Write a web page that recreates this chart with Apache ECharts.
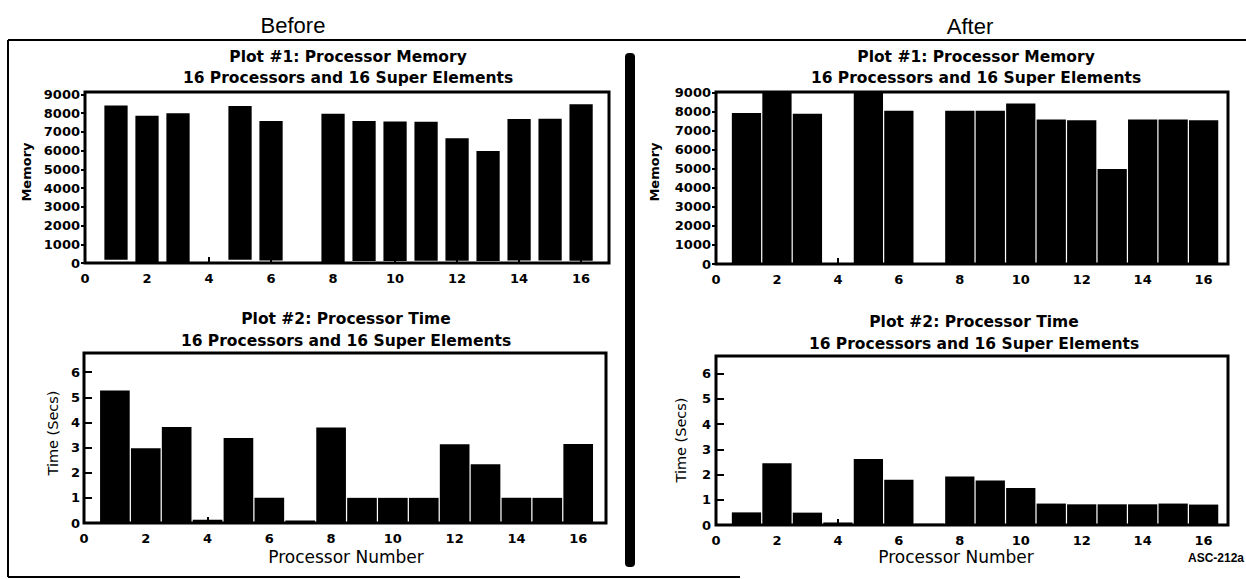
<!DOCTYPE html>
<html><head><meta charset="utf-8">
<script src="https://cdn.jsdelivr.net/npm/echarts@6/dist/echarts.min.js"></script>
<style>html,body{margin:0;padding:0;background:#fff}#c{width:1246px;height:579px}</style>
</head><body><div id="c"></div>
<script>
// ---- data ----
const processors = [1,2,3,4,5,6,7,8,9,10,11,12,13,14,15,16];
const memoryBefore     = [8400,7850,7990,0,8380,7570,0,7960,7570,7550,7530,6650,5970,7680,7700,8470];
const memoryBeforeBase = [180,0,0,0,180,140,0,0,110,110,120,120,110,130,130,120];
const timeBefore  = [5.27,2.97,3.82,0.13,3.38,1.0,0.1,3.8,1.0,1.0,1.0,3.13,2.34,1.0,1.0,3.14];
const memoryAfter = [7950,9100,7900,0,9100,8070,0,8070,8070,8450,7600,7570,5000,7600,7600,7570];
const timeAfter   = [0.5,2.45,0.49,0.1,2.62,1.79,0.05,1.92,1.76,1.47,0.85,0.82,0.82,0.82,0.85,0.81];
const processorTicks = [0,2,4,6,8,10,12,14,16];
const memoryTicks = [0,1000,2000,3000,4000,5000,6000,7000,8000,9000];
const timeTicks = [0,1,2,3,4,5,6];

const headings = ['Before','After'];
const plotTitles = ['Plot #1: Processor Memory','Plot #2: Processor Time'];
const plotSubtitle = '16 Processors and 16 Super Elements';
const xName = 'Processor Number';
const yNames = ['Memory','Time (Secs)'];
const figureId = 'ASC-212a';

// ---- rendering ----
const chart = echarts.init(document.getElementById('c'), null, {renderer:'svg'});

function barRenderer(w){
  return function(params, api){
    const x = api.value(0), top = api.value(1), base = api.value(2);
    const a = api.coord([x - w/2, top]);
    const b = api.coord([x + w/2, base]);
    const cs = params.coordSys;
    const r = echarts.graphic.clipRectByRect(
      {x:a[0], y:a[1], width:b[0]-a[0], height:b[1]-a[1]},
      {x:cs.x, y:cs.y, width:cs.width, height:cs.height});
    return r ? {type:'rect', shape:r, style:{fill:'#000'}} : null;
  };
}
function rows(vals, base){ return processors.map((p,i)=>[p, vals[i], base ? base[i] : 0]); }

const lblFont = {fontFamily:'DejaVu Sans', fontWeight:'bold', fontSize:13, color:'#000', formatter:v=>String(v)};
const grids = [
  {left:85, top:92, width:524, height:171},
  {left:84, top:353, width:522, height:170},
  {left:716, top:92, width:512, height:172},
  {left:716, top:356, width:512, height:169}
].map(g=>Object.assign({show:true, borderColor:'#000', borderWidth:3, backgroundColor:'transparent'}, g));

function xAx(gi, max){
  return {type:'value', gridIndex:gi, min:0, max:max, interval:2,
    axisLine:{show:false}, splitLine:{show:false},
    axisTick:{show:true, inside:true, length:6, customValues:processorTicks, lineStyle:{color:'#000', width:2}},
    axisLabel:Object.assign({margin:9, customValues:processorTicks}, lblFont)};
}
function yAx(gi, max, interval, ticks, inside, tlen, margin){
  return {type:'value', gridIndex:gi, min:0, max:max, interval:interval,
    axisLine:{show:false}, splitLine:{show:false},
    axisTick:{show:true, inside:inside, length:tlen, customValues:ticks, lineStyle:{color:'#000', width:2}},
    axisLabel:Object.assign({margin:margin, customValues:ticks}, lblFont)};
}

function txt(x, y, text, font, rot){
  return {type:'text', x:x, y:y, rotation:rot||0, silent:true,
    style:{text:text, font:font, fill:'#000', align:'center', verticalAlign:'middle', textAlign:'center', textVerticalAlign:'middle'}};
}
const titleFont = 'bold 15.5px "DejaVu Sans"';
const graphics = [
  {type:'line', shape:{x1:8, y1:40, x2:1246, y2:40}, style:{stroke:'#000', lineWidth:2}},
  {type:'line', shape:{x1:8, y1:40, x2:8, y2:577}, style:{stroke:'#000', lineWidth:2}},
  {type:'line', shape:{x1:8, y1:577, x2:740, y2:577}, style:{stroke:'#000', lineWidth:2}},
  {type:'rect', shape:{x:625, y:53, width:10, height:514, r:4}, style:{fill:'#000'}},
  txt(293, 25, headings[0], '22px "Liberation Sans"'),
  txt(970, 26, headings[1], '22px "Liberation Sans"'),
  txt(348, 57, plotTitles[0], titleFont),
  txt(348, 78, plotSubtitle, titleFont),
  txt(346, 319, plotTitles[1], titleFont),
  txt(346, 341, plotSubtitle, titleFont),
  txt(976, 57, plotTitles[0], titleFont),
  txt(976, 78, plotSubtitle, titleFont),
  txt(974, 322, plotTitles[1], titleFont),
  txt(974, 344, plotSubtitle, titleFont),
  txt(26, 172, yNames[0], 'bold 13px "DejaVu Sans"', Math.PI/2),
  txt(654, 172, yNames[0], 'bold 13px "DejaVu Sans"', Math.PI/2),
  txt(53, 433, yNames[1], '14.5px "DejaVu Sans"', Math.PI/2),
  txt(681, 440, yNames[1], '14.5px "DejaVu Sans"', Math.PI/2),
  txt(346, 557, xName, '17px "DejaVu Sans"'),
  txt(956, 557, xName, '17px "DejaVu Sans"'),
  txt(1216, 558, figureId, 'bold 12px "Liberation Sans"')
];

chart.setOption({
  animation:false,
  backgroundColor:'#fff',
  grid:grids,
  xAxis:[xAx(0,16.9), xAx(1,16.9), xAx(2,16.8), xAx(3,16.8)],
  yAxis:[
    yAx(0, 9120, 1000, memoryTicks, false, 4, 5),
    yAx(1, 6.76, 1, timeTicks, true, 8, 4),
    yAx(2, 9050, 1000, memoryTicks, false, 4, 5),
    yAx(3, 6.7, 1, timeTicks, true, 8, 5)
  ],
  series:[
    {type:'custom', xAxisIndex:0, yAxisIndex:0, renderItem:barRenderer(0.75), data:rows(memoryBefore, memoryBeforeBase), z:3},
    {type:'custom', xAxisIndex:1, yAxisIndex:1, renderItem:barRenderer(0.96), data:rows(timeBefore), z:3},
    {type:'custom', xAxisIndex:2, yAxisIndex:2, renderItem:barRenderer(0.96), data:rows(memoryAfter), z:3},
    {type:'custom', xAxisIndex:3, yAxisIndex:3, renderItem:barRenderer(0.96), data:rows(timeAfter), z:3}
  ],
  graphic:graphics
});
</script></body></html>
